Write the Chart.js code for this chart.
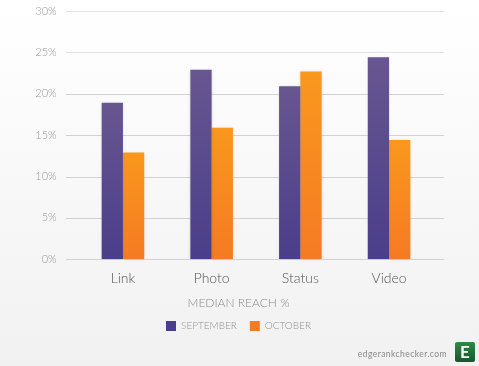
<!DOCTYPE html>
<html>
<head>
<meta charset="utf-8">
<script src="https://cdn.jsdelivr.net/npm/chart.js@4"></script>
<style>
	html, body { margin: 0; padding: 0; }
	body { width: 479px; height: 366px; overflow: hidden; position: relative; background: linear-gradient(#ffffff, #f1f1f1); font-family: Lato, sans-serif; }
	canvas { position: absolute; left: 0; top: 0; }
	.site { position: absolute; right: 32px; top: 348px; font-size: 8.5px; line-height: 12px; letter-spacing: 0.45px; color: #888; }
	.logo { position: absolute; left: 455px; top: 342px; width: 20px; height: 20px; border-radius: 2px; background: linear-gradient(#2f8a45, #14572c); color: #fff; font: bold 17px/20px Lato, sans-serif; text-align: center; }
</style>
</head>
<body>
<canvas id="chart" width="479" height="366"></canvas>
<div class="site">edgerankchecker.com</div>
<div class="logo">E</div>
<script>
const categories = ["Link", "Photo", "Status", "Video"]
const september = [18.9, 22.9, 20.9, 24.4]
const october = [12.9, 15.9, 22.7, 14.4]
const yTicks = [0, 5, 10, 15, 20, 25, 30]

// bars fade from top of each bar down to the axis
const barFill = (top, bottom, flat) => (c) => {
	if (c.type !== "data" || !c.parsed) return flat
	const y = c.chart.scales.y
	const y0 = y.getPixelForValue(c.parsed.y)
	const y1 = y.getPixelForValue(0)
	if (!isFinite(y0) || !isFinite(y1)) return flat
	const g = c.chart.ctx.createLinearGradient(0, y0, 0, y1)
	g.addColorStop(0, top)
	g.addColorStop(1, bottom)
	return g
}

// grid runs past the bars on both sides, so it can't use the normal chart area lines
const wideGrid = {
	id: "wideGrid",
	beforeDatasetsDraw(chart) {
		const { ctx, scales } = chart
		ctx.save()
		ctx.lineWidth = 1
		scales.y.ticks.forEach((t) => {
			const py = Math.round(scales.y.getPixelForValue(t.value)) + 0.5
			ctx.strokeStyle = t.value > 22 ? "#e2e2e2" : "#d2d2d2"
			ctx.beginPath()
			ctx.moveTo(66, py)
			ctx.lineTo(444, py)
			ctx.stroke()
		})
		ctx.restore()
		ctx.save()
		ctx.shadowColor = "rgba(0,0,0,0.12)"
		ctx.shadowBlur = 3
	},
	afterDatasetsDraw(chart) {
		chart.ctx.restore()
	},
}

new Chart(document.getElementById("chart"), {
	type: "bar",
	plugins: [wideGrid],
	data: {
		labels: categories,
		datasets: [
			{ label: "SEPTEMBER", data: september, backgroundColor: barFill("#67568f", "#4a3e8a", "#584a8c") },
			{ label: "OCTOBER", data: october, backgroundColor: barFill("#f9981d", "#f57a23", "#f78a20") },
		],
	},
	options: {
		responsive: false,
		animation: false,
		categoryPercentage: 0.48,
		barPercentage: 1,
		layout: { padding: { left: 0, right: 2, top: 11, bottom: 25 } },
		plugins: {
			tooltip: { enabled: false },
			title: {
				display: true,
				position: "bottom",
				weight: 500,
				text: "MEDIAN REACH %",
				color: "#8a8a8a",
				font: { family: "Lato", size: 12, weight: 300 },
				padding: { top: 5.5, bottom: -2 },
			},
			legend: {
				position: "bottom",
				labels: {
					boxWidth: 10,
					boxHeight: 10,
					padding: 13,
					color: "#929292",
					font: { family: "Lato", size: 10, weight: 300 },
				},
			},
		},
		scales: {
			x: {
				grid: { display: false },
				border: { display: false },
				ticks: { color: "#555", padding: 3, font: { family: "Lato", size: 14, weight: 300 } },
			},
			y: {
				min: 0,
				max: 30,
				afterBuildTicks(axis) {
					axis.ticks = yTicks.map((value) => ({ value }))
				},
				afterFit(axis) {
					axis.width = 78.6
					axis.paddingTop = 0
					axis.paddingBottom = 0
				},
				grid: { display: false },
				border: { display: false },
				ticks: {
					color: "#999",
					padding: 14,
					font: { family: "Lato", size: 11, weight: 300 },
					callback: (v) => v + "%",
				},
			},
			// empty axis on the right, keeps the bars in from the edge and the legend centred
			spacer: {
				position: "right",
				afterFit(axis) {
					axis.width = 43.6
					axis.paddingTop = 0
					axis.paddingBottom = 0
				},
				grid: { display: false },
				border: { display: false },
				ticks: { display: false },
			},
		},
	},
})
</script>
</body>
</html>
